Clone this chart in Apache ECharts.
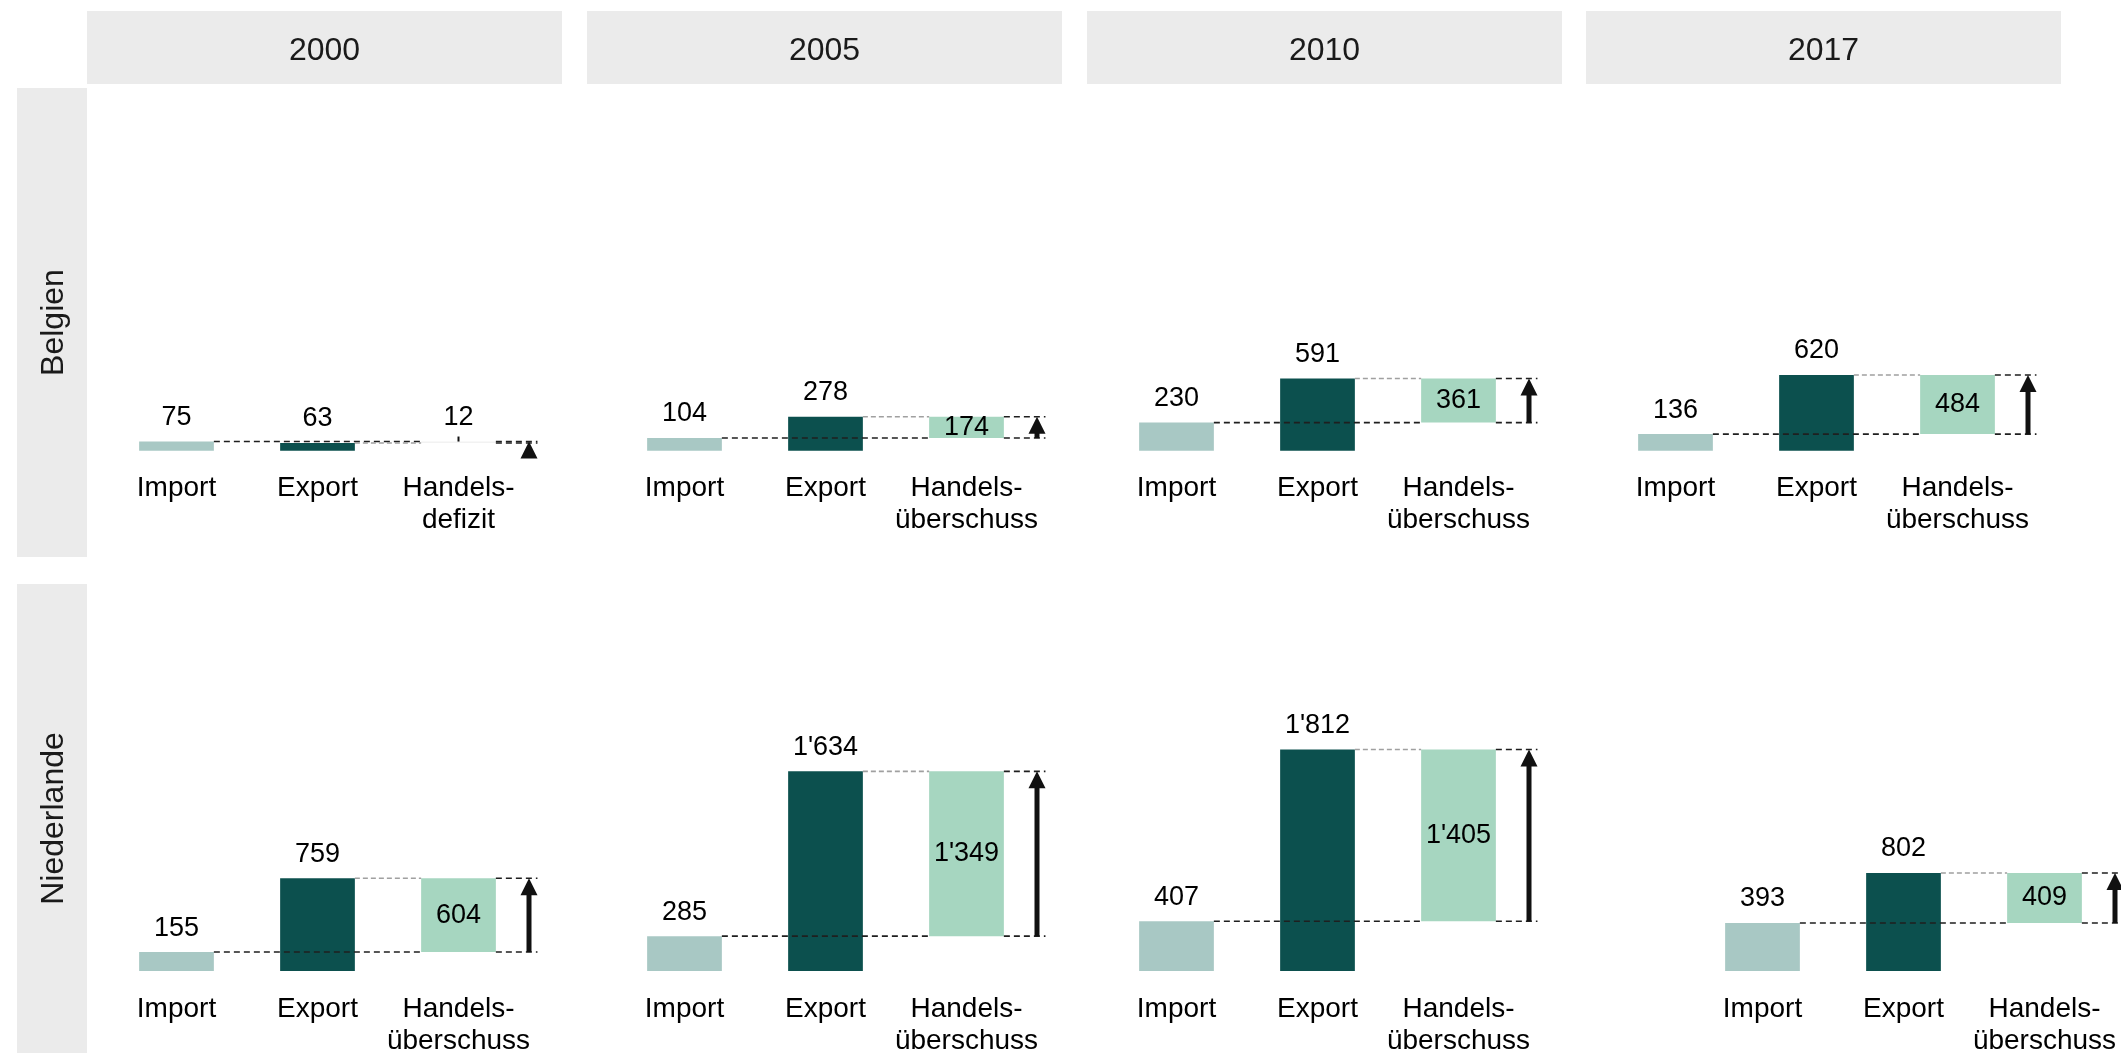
<!DOCTYPE html>
<html>
<head>
<meta charset="utf-8">
<title>Handelsbilanz Belgien / Niederlande</title>
<script src="https://cdn.jsdelivr.net/npm/echarts@6/dist/echarts.min.js"></script>
<style>
  html, body { margin: 0; padding: 0; background: #ffffff; }
  #chart { width: 2121px; height: 1056px; }
</style>
</head>
<body>
<div id="chart"></div>
<script>
// ---- Data -----------------------------------------------------------------
const years = ['2000', '2005', '2010', '2017'];
const countries = ['Belgien', 'Niederlande'];
const importBelgien = [75, 104, 230, 136];
const exportBelgien = [63, 278, 591, 620];
const importNiederlande = [155, 285, 407, 393];
const exportNiederlande = [759, 1634, 1812, 802];
const flowLabels = ['Import', 'Export'];
const surplusLabel = 'Handels-\nüberschuss';
const deficitLabel = 'Handels-\ndefizit';

const importByCountry = [importBelgien, importNiederlande];
const exportByCountry = [exportBelgien, exportNiederlande];

// ---- Layout ---------------------------------------------------------------
const FONT = '"Liberation Sans", Arial, Helvetica, sans-serif';
const STRIP_BG = '#ebebeb';
const TEXT_DARK = '#1a1a1a';
const COLOR_IMPORT = '#a8c8c4';
const COLOR_EXPORT = '#0c504e';
const COLOR_SURPLUS = '#a6d6c0';
const COLOR_DEFICIT = '#f2f2f2';

const colLeft = [87, 587, 1087, 1586];
const colWidth = 475;
const headerTop = 11;
const headerHeight = 73;
const stripLeft = 17;
const stripWidth = 70;
const rowTop = [88, 584];
const rowHeight = 469;
const baselinePx = [450.7, 971];   // pixel row of the zero line in each row
const pxPerUnit = 0.1222;          // shared value scale (px per unit)
const xUnitPx = 141;               // px between neighbouring bars
const firstBarOffset = 89.5;       // px from panel left to the first bar centre
const panelShift = [[0, 8, 0, 0], [0, 8, 0, 87]];  // content offset inside a panel (px)

const BAR_HALF = 0.265;            // half bar width in x units
const ARROW_X = 3.5;
const GUIDE_END = 3.56;

const xMinBase = 1 - firstBarOffset / xUnitPx;

function fmt(v) {
  return String(v).replace(/\B(?=(\d{3})+(?!\d))/g, "'");
}

// ---- Render helpers -------------------------------------------------------
function renderBar(params, api) {
  const x = api.value(0), y0 = api.value(1), y1 = api.value(2), kind = api.value(3);
  const pa = api.coord([x - BAR_HALF, Math.min(y0, y1)]);
  const pb = api.coord([x + BAR_HALF, Math.max(y0, y1)]);
  const fills = [COLOR_IMPORT, COLOR_EXPORT, COLOR_SURPLUS, COLOR_DEFICIT];
  return {
    type: 'rect',
    shape: { x: pa[0], y: pb[1], width: pb[0] - pa[0], height: Math.max(pa[1] - pb[1], 1.5) },
    style: { fill: fills[kind] }
  };
}

function makeGuideRenderer() {
  return function (params, api) {
    const imp = api.value(0), exp = api.value(1);
    const lo = Math.min(imp, exp), hi = Math.max(imp, exp);
    const black = { stroke: '#1f1f1f', lineWidth: 1.6, lineDash: [6, 4], fill: null };
    const grey = { stroke: '#a0a0a0', lineWidth: 1.6, lineDash: [5, 3], fill: null };
    const seg = (x1, x2, v, style) => {
      const a = api.coord([x1, v]), b = api.coord([x2, v]);
      return { type: 'line', shape: { x1: a[0], y1: a[1], x2: b[0], y2: b[1] }, style: style };
    };
    const children = [
      seg(1 + BAR_HALF, 3 - BAR_HALF, imp, black),
      seg(2 + BAR_HALF, 3 - BAR_HALF, exp, grey),
      seg(3 + BAR_HALF, GUIDE_END, imp, black),
      seg(3 + BAR_HALF, GUIDE_END, exp, black)
    ];
    // arrow from the lower to the higher flow
    const tip = api.coord([ARROW_X, hi]);
    const base = api.coord([ARROW_X, lo]);
    const headLen = 17, headHalf = 8.5, shaftHalf = 2.5;
    if (base[1] - tip[1] > headLen) {
      children.push({
        type: 'rect',
        shape: { x: tip[0] - shaftHalf, y: tip[1] + headLen - 1, width: shaftHalf * 2, height: base[1] - tip[1] - headLen + 1 },
        style: { fill: '#111111' }
      });
    }
    children.push({
      type: 'polygon',
      shape: { points: [[tip[0], tip[1]], [tip[0] - headHalf, tip[1] + headLen], [tip[0] + headHalf, tip[1] + headLen]] },
      style: { fill: '#111111' }
    });
    if (exp < imp) {
      // small marker on top of the deficit bar
      const t = api.coord([3, hi]);
      children.push({
        type: 'line',
        shape: { x1: t[0], y1: t[1] - 5, x2: t[0], y2: t[1] },
        style: { stroke: '#111111', lineWidth: 2 }
      });
    }
    return { type: 'group', children: children };
  };
}

function makeValueLabelRenderer(items) {
  return function (params, api) {
    const item = items[params.dataIndex];
    const x = api.value(0), y = api.value(1);
    const p = api.coord([x, y]);
    const dy = item.inside ? 0 : -24;
    return {
      type: 'text',
      x: p[0], y: p[1] + dy,
      style: {
        text: fmt(item.text), fill: '#000000', fontSize: 27, fontFamily: FONT,
        align: 'center', verticalAlign: 'middle'
      }
    };
  };
}

function makeCategoryRenderer(names) {
  return function (params, api) {
    const p = api.coord([api.value(0), 0]);
    return {
      type: 'text',
      x: p[0], y: p[1] + 22,
      style: {
        text: names[params.dataIndex], fill: '#000000', fontSize: 28, fontFamily: FONT,
        align: 'center', verticalAlign: 'top', lineHeight: 32
      }
    };
  };
}

// ---- Build option ---------------------------------------------------------
const grid = [], xAxis = [], yAxis = [], series = [], graphic = [];

years.forEach((year, c) => {
  graphic.push({
    type: 'rect', left: colLeft[c], top: headerTop,
    shape: { width: colWidth, height: headerHeight },
    style: { fill: STRIP_BG }, silent: true
  });
  graphic.push({
    type: 'text', x: colLeft[c] + colWidth / 2, y: headerTop + headerHeight / 2 + 4,
    style: { text: year, fill: TEXT_DARK, fontSize: 32, fontFamily: FONT, align: 'center', verticalAlign: 'middle' },
    silent: true
  });
});

countries.forEach((country, r) => {
  graphic.push({
    type: 'rect', left: stripLeft, top: rowTop[r],
    shape: { width: stripWidth, height: rowHeight },
    style: { fill: STRIP_BG }, silent: true
  });
  graphic.push({
    type: 'text', x: stripLeft + stripWidth / 2 + 2, y: rowTop[r] + rowHeight / 2, rotation: Math.PI / 2,
    style: { text: country, fill: TEXT_DARK, fontSize: 32, fontFamily: FONT, align: 'center', verticalAlign: 'middle' },
    silent: true
  });

  years.forEach((year, c) => {
    const idx = grid.length;
    const imp = importByCountry[r][c];
    const exp = exportByCountry[r][c];
    const bal = exp - imp;
    const lo = Math.min(imp, exp), hi = Math.max(imp, exp);
    const xMin = xMinBase - panelShift[r][c] / xUnitPx;

    grid.push({
      left: colLeft[c], top: rowTop[r],
      width: colWidth, height: rowHeight, containLabel: false
    });
    xAxis.push({ type: 'value', gridIndex: idx, min: xMin, max: xMin + colWidth / xUnitPx, show: false });
    yAxis.push({
      type: 'value', gridIndex: idx, show: false,
      min: -(rowTop[r] + rowHeight - baselinePx[r]) / pxPerUnit,
      max: (baselinePx[r] - rowTop[r]) / pxPerUnit
    });

    const axisRef = { coordinateSystem: 'cartesian2d', xAxisIndex: idx, yAxisIndex: idx, silent: true, clip: false };

    series.push(Object.assign({
      type: 'custom', name: country + ' ' + year + ' Balken', z: 2,
      renderItem: renderBar,
      encode: { x: 0, y: [1, 2] },
      data: [
        [1, 0, imp, 0],
        [2, 0, exp, 1],
        [3, lo, hi, bal >= 0 ? 2 : 3]
      ]
    }, axisRef));

    series.push(Object.assign({
      type: 'custom', name: country + ' ' + year + ' Hilfslinien', z: 3,
      renderItem: makeGuideRenderer(),
      encode: { y: [0, 1] },
      data: [[imp, exp]]
    }, axisRef));

    const valueItems = [
      { x: 1, y: imp, text: imp, inside: false },
      { x: 2, y: exp, text: exp, inside: false },
      bal >= 0
        ? { x: 3, y: (imp + exp) / 2, text: bal, inside: true }
        : { x: 3, y: hi, text: -bal, inside: false }
    ];
    series.push(Object.assign({
      type: 'custom', name: country + ' ' + year + ' Werte', z: 4,
      renderItem: makeValueLabelRenderer(valueItems),
      encode: { x: 0, y: 1 },
      data: valueItems.map(v => [v.x, v.y])
    }, axisRef));

    const names = [flowLabels[0], flowLabels[1], bal >= 0 ? surplusLabel : deficitLabel];
    series.push(Object.assign({
      type: 'custom', name: country + ' ' + year + ' Kategorien', z: 4,
      renderItem: makeCategoryRenderer(names),
      encode: { x: 0 },
      data: [[1], [2], [3]]
    }, axisRef));
  });
});

const chart = echarts.init(document.getElementById('chart'), null, { renderer: 'canvas' });
chart.setOption({
  backgroundColor: '#ffffff',
  animation: false,
  textStyle: { fontFamily: FONT },
  grid: grid,
  xAxis: xAxis,
  yAxis: yAxis,
  graphic: graphic,
  series: series
});
</script>
</body>
</html>
